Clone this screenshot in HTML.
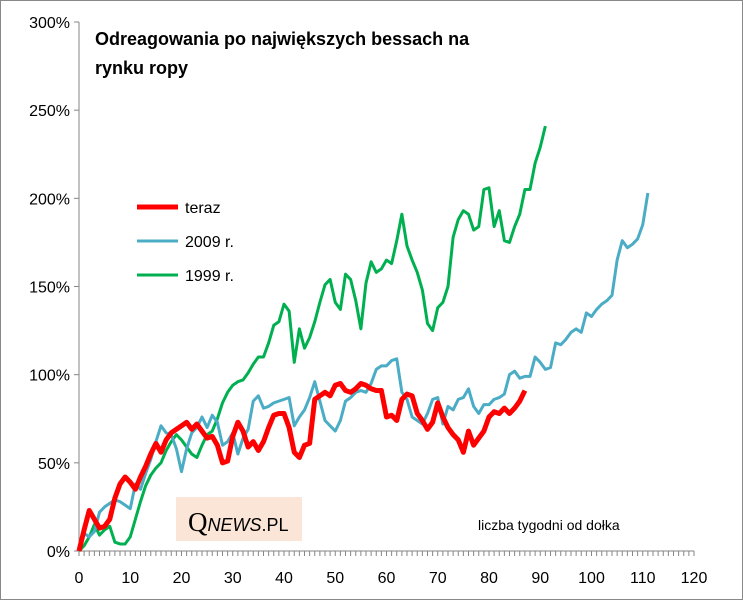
<!DOCTYPE html>
<html><head><meta charset="utf-8"><style>
body{margin:0;background:#fff}
svg{display:block;font-family:"Liberation Sans",sans-serif}
</style></head><body>
<svg id="chart" width="743" height="600">
<rect x="0.5" y="0.5" width="742" height="599" fill="#fff" stroke="#888"/>
<g id="axes"></g>
<g id="series"></g>
<text x="95" y="45" font-size="18" font-weight="bold">Odreagowania po największych bessach na</text>
<text x="95" y="74" font-size="18" font-weight="bold">rynku ropy</text>
<g>
<line x1="137" y1="207" x2="178" y2="207" stroke="#ff0000" stroke-width="5"/>
<text x="185" y="213" font-size="16">teraz</text>
<line x1="137" y1="241" x2="178" y2="241" stroke="#4bacc6" stroke-width="3"/>
<text x="185" y="247" font-size="16">2009 r.</text>
<line x1="137" y1="275" x2="178" y2="275" stroke="#00b050" stroke-width="3"/>
<text x="185" y="281" font-size="16">1999 r.</text>
</g>
<rect x="176" y="497" width="126" height="44" fill="#fbe5d6"/>
<text x="188" y="531" font-size="25" font-family="Liberation Serif,serif"><tspan font-size="27">Q</tspan><tspan font-size="18" font-style="italic" font-family="Liberation Sans,sans-serif">NEWS</tspan><tspan font-size="18" font-family="Liberation Sans,sans-serif">.PL</tspan></text>
<text x="478" y="530" font-size="14">liczba tygodni od dołka</text>
</svg>
<script>
const xTicks=[0,10,20,30,40,50,60,70,80,90,100,110,120];
const yTicks=[0,50,100,150,200,250,300];
const teraz=[0,12,23,18,13,14,18,30,38,42,39,35,42,48,55,61,56,63,67,69,71,73,69,72,68,64,65,60,50,51,65,73,68,59,62,57,62,70,77,78,78,70,56,53,60,61,86,88,90,88,94,95,91,90,92,95,94,92,91,91,76,77,74,86,89,88,78,74,69,73,84,76,70,66,63,56,68,60,64,68,76,79,78,81,78,81,85,91];
const y2009=[0,10,8,11,22,25,27,29,28,26,24,38,35,44,52,62,71,67,66,58,45,58,67,70,76,70,77,73,60,62,67,55,64,69,85,88,81,82,84,85,86,87,71,76,80,87,96,85,74,71,68,74,85,87,90,91,90,95,103,105,105,108,109,90,86,76,74,72,78,86,87,72,82,80,86,87,92,82,78,83,83,86,87,89,100,102,98,99,99,110,107,103,104,118,117,120,124,126,124,135,133,137,140,142,145,165,176,172,174,177,185,203];
const y1999=[0,3,8,15,9,12,14,5,4,4,8,18,28,37,43,47,50,57,62,66,63,59,55,53,60,66,68,75,84,90,94,96,97,101,106,110,110,118,128,130,140,136,107,126,115,121,130,141,151,154,141,137,157,154,142,126,152,164,158,160,165,163,176,191,173,165,158,148,129,125,138,141,150,178,188,193,191,182,184,205,206,184,193,176,175,184,191,205,205,220,229,241];
const NS='http://www.w3.org/2000/svg';
const X=w=>79+w*5.125, Y=v=>551-v*1.7633;
const ax=document.getElementById('axes'), se=document.getElementById('series');
function mk(t,a,p){const e=document.createElementNS(NS,t);for(const k in a)e.setAttribute(k,a[k]);p.appendChild(e);return e;}
let e=mk('line',{x1:79,y1:Y(300),x2:79,y2:551,stroke:'#868686'},ax);


e=mk('line',{x1:79,y1:551,x2:X(120),y2:551,stroke:'#868686'},ax);


for(let w=0;w<=120;w++){mk('line',{x1:X(w),y1:551,x2:X(w),y2:556,stroke:'#868686'},ax);}
yTicks.forEach(v=>{mk('line',{x1:74,y1:Y(v),x2:79,y2:Y(v),stroke:'#868686'},ax);
const t=mk('text',{x:70,y:Y(v)+6,'text-anchor':'end','font-size':16},ax);t.textContent=v+'%';

});
xTicks.forEach(w=>{const t=mk('text',{x:X(w),y:583,'text-anchor':'middle','font-size':16},ax);t.textContent=w;

});
function line(d,c,sw,name){const p=mk('polyline',{points:d.map((v,i)=>X(i)+','+Y(v)).join(' '),fill:'none',stroke:c,'stroke-width':sw,'stroke-linejoin':'round'},se);

}
line(y1999,'#00b050',3,'series-1999');
line(y2009,'#4bacc6',3,'series-2009');
line(teraz,'#ff0000',5,'series-teraz');
</script>
</body></html>
